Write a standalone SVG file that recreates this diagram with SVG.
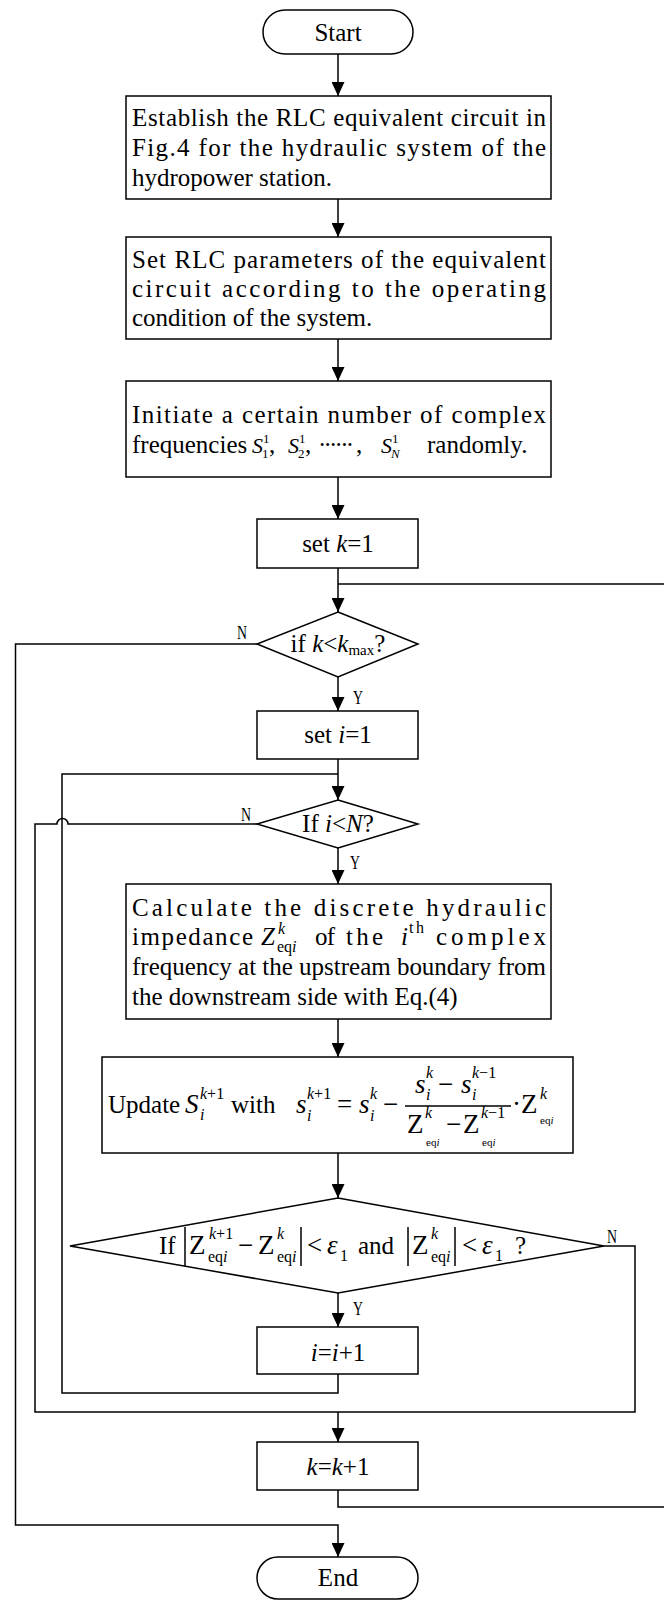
<svg xmlns="http://www.w3.org/2000/svg" width="664" height="1600" viewBox="0 0 664 1600">
<style>
text{font-family:"Liberation Serif","Times New Roman",serif;font-size:25px;fill:#000}
.i{font-style:italic}
.m{font-size:27px}
.s{font-size:16px}
.ss{font-size:13px}
.xs{font-size:11px}
.sm{font-size:22px}
.lbl{font-size:18px}
.box{fill:#fff;stroke:#000;stroke-width:1.5}
.ln{fill:none;stroke:#000;stroke-width:1.5}
</style>
<defs>
<marker id="arr" markerUnits="userSpaceOnUse" markerWidth="14" markerHeight="13" viewBox="0 0 14 13" refX="14" refY="6.5" orient="auto">
<path d="M0,0 L14,6.5 L0,13 z" fill="#000"/>
</marker>
</defs>
<rect width="664" height="1600" fill="#fff"/>

<g id="connectors">
<path class="ln" d="M338,54 V96" marker-end="url(#arr)"/>
<path class="ln" d="M338,199 V237" marker-end="url(#arr)"/>
<path class="ln" d="M338,339 V381" marker-end="url(#arr)"/>
<path class="ln" d="M338,477 V519" marker-end="url(#arr)"/>
<path class="ln" d="M338,568 V612" marker-end="url(#arr)"/>
<path class="ln" d="M338,677 V711" marker-end="url(#arr)"/>
<path class="ln" d="M338,759 V800" marker-end="url(#arr)"/>
<path class="ln" d="M338,848 V884" marker-end="url(#arr)"/>
<path class="ln" d="M338,1019 V1057" marker-end="url(#arr)"/>
<path class="ln" d="M338,1153 V1198" marker-end="url(#arr)"/>
<path class="ln" d="M338,1293 V1327" marker-end="url(#arr)"/>
<path class="ln" d="M338,1412 V1442" marker-end="url(#arr)"/>
<path class="ln" d="M338,1490 V1507 H667 V584 H338"/>
<path class="ln" d="M257,644 H15.5 V1525 H338 V1557" marker-end="url(#arr)"/>
<path class="ln" d="M338,1374 V1393 H62 V774 H338"/>
<path class="ln" d="M257,824 H68 A5.5,5.5 0 0 0 57,824 H35 V1412 H338"/>
<path class="ln" d="M604,1246 H635 V1412 H338"/>
</g>

<g id="labels">
<text class="lbl" x="237" y="639" textLength="10" lengthAdjust="spacingAndGlyphs">N</text>
<text class="lbl" x="353" y="704" textLength="10" lengthAdjust="spacingAndGlyphs">Y</text>
<text class="lbl" x="241" y="821" textLength="10" lengthAdjust="spacingAndGlyphs">N</text>
<text class="lbl" x="350" y="869" textLength="10" lengthAdjust="spacingAndGlyphs">Y</text>
<text class="lbl" x="607" y="1243" textLength="10" lengthAdjust="spacingAndGlyphs">N</text>
<text class="lbl" x="353" y="1315" textLength="10" lengthAdjust="spacingAndGlyphs">Y</text>
</g>

<g id="start">
<rect class="box" x="263" y="10" width="150" height="44" rx="22"/>
<text x="338" y="41" text-anchor="middle">Start</text>
</g>

<g id="box1">
<rect class="box" x="126" y="96" width="425" height="103"/>
<text x="132" y="126" textLength="414" lengthAdjust="spacing">Establish the RLC equivalent circuit in</text>
<text x="132" y="156" textLength="414" lengthAdjust="spacing">Fig.4 for the hydraulic system of the</text>
<text x="132" y="186">hydropower station.</text>
</g>

<g id="box2">
<rect class="box" x="126" y="237" width="425" height="102"/>
<text x="132" y="268" textLength="414" lengthAdjust="spacing">Set RLC parameters of the equivalent</text>
<text x="132" y="297" textLength="414" lengthAdjust="spacing">circuit according to the operating</text>
<text x="132" y="326">condition of the system.</text>
</g>

<g id="box3">
<rect class="box" x="126" y="381" width="425" height="96"/>
<text x="132" y="423" textLength="414" lengthAdjust="spacing">Initiate a certain number of complex</text>
<text x="132" y="453">frequencies</text>
<text class="sm i" x="252" y="453">S</text>
<text class="ss" x="263" y="443">1</text>
<text class="ss" x="262" y="458">1</text>
<text x="269" y="453">,</text>
<text class="sm i" x="288" y="453">S</text>
<text class="ss" x="299" y="443">1</text>
<text class="ss" x="298" y="458">2</text>
<text x="305" y="453">,</text>
<text x="318" y="453" textLength="36" lengthAdjust="spacing">······</text>
<text x="356" y="453">,</text>
<text class="sm i" x="381" y="453">S</text>
<text class="ss" x="392" y="443">1</text>
<text class="ss i" x="391" y="458">N</text>
<text x="427" y="453">randomly.</text>
</g>

<g id="setk">
<rect class="box" x="257" y="519" width="161" height="49"/>
<text x="338" y="552" text-anchor="middle">set <tspan class="i">k</tspan>=1</text>
</g>

<g id="dec1">
<polygon class="box" points="338,612 418,644 338,677 257,644"/>
<text x="338" y="652" text-anchor="middle">if <tspan class="i">k</tspan>&lt;<tspan class="i">k</tspan><tspan font-size="15" dy="3">max</tspan><tspan dy="-3">?</tspan></text>
</g>

<g id="seti">
<rect class="box" x="257" y="711" width="161" height="48"/>
<text x="338" y="743" text-anchor="middle">set <tspan class="i">i</tspan>=1</text>
</g>

<g id="dec2">
<polygon class="box" points="338,800 418,824 338,848 257,824"/>
<text x="338" y="832" text-anchor="middle">If <tspan class="i">i</tspan>&lt;<tspan class="i">N</tspan>?</text>
</g>

<g id="calc">
<rect class="box" x="126" y="884" width="425" height="135"/>
<text x="132" y="916" textLength="414" lengthAdjust="spacing">Calculate the discrete hydraulic</text>
<text x="132" y="945" textLength="121" lengthAdjust="spacing">impedance</text>
<text class="i" x="261" y="945">Z</text>
<text class="s i" x="278" y="934">k</text>
<text class="s" x="277" y="952">eq<tspan class="i">i</tspan></text>
<text x="315" y="945" textLength="20" lengthAdjust="spacing">of</text>
<text x="346" y="945" textLength="37" lengthAdjust="spacing">the</text>
<text class="i" x="401" y="945">i</text>
<text class="s" x="409" y="933" textLength="15" lengthAdjust="spacing">th</text>
<text x="436" y="945" textLength="110" lengthAdjust="spacing">complex</text>
<text x="132" y="975" textLength="414" lengthAdjust="spacing">frequency at the upstream boundary from</text>
<text x="132" y="1005">the downstream side with Eq.(4)</text>
</g>

<g id="update">
<rect class="box" x="102" y="1057" width="471" height="96"/>
<text x="108" y="1113">Update</text>
<text class="m i" x="185" y="1113">S</text>
<text class="s" x="200" y="1099"><tspan class="i">k</tspan>+1</text>
<text class="s i" x="200" y="1120">i</text>
<text x="231" y="1113">with</text>
<text class="m i" x="296" y="1113">s</text>
<text class="s" x="307" y="1099"><tspan class="i">k</tspan>+1</text>
<text class="s i" x="307" y="1121">i</text>
<text class="m" x="337" y="1113">=</text>
<text class="m i" x="359" y="1113">s</text>
<text class="s i" x="370" y="1099">k</text>
<text class="s i" x="370" y="1121">i</text>
<text class="m" x="383" y="1113">−</text>
<line class="ln" x1="405" y1="1106" x2="511" y2="1106"/>
<text class="m i" x="415" y="1093">s</text>
<text class="s i" x="426" y="1078">k</text>
<text class="s i" x="426" y="1100">i</text>
<text class="m" x="438" y="1093">−</text>
<text class="m i" x="461" y="1093">s</text>
<text class="s" x="472" y="1078"><tspan class="i">k</tspan>−1</text>
<text class="s i" x="472" y="1100">i</text>
<text class="m" x="407" y="1133">Z</text>
<text class="s i" x="425" y="1118">k</text>
<text class="xs" x="426" y="1146">eq<tspan class="i">i</tspan></text>
<text class="m" x="446" y="1133">−</text>
<text class="m" x="463" y="1133">Z</text>
<text class="s" x="481" y="1118"><tspan class="i">k</tspan>−1</text>
<text class="xs" x="482" y="1146">eq<tspan class="i">i</tspan></text>
<text class="m" x="512" y="1113">·</text>
<text class="m" x="521" y="1113">Z</text>
<text class="s i" x="540" y="1099">k</text>
<text class="xs" x="540" y="1124">eq<tspan class="i">i</tspan></text>
</g>

<g id="dec3">
<polygon class="box" points="338,1198 604,1246 338,1293 70,1246"/>
<text x="159" y="1254">If</text>
<line class="ln" x1="185" y1="1227" x2="185" y2="1266"/>
<text class="m" x="189" y="1254">Z</text>
<text class="s" x="209" y="1239"><tspan class="i">k</tspan>+1</text>
<text class="s" x="208" y="1262">eq<tspan class="i">i</tspan></text>
<text class="m" x="238" y="1254">−</text>
<text class="m" x="258" y="1254">Z</text>
<text class="s i" x="277" y="1239">k</text>
<text class="s" x="277" y="1262">eq<tspan class="i">i</tspan></text>
<line class="ln" x1="301" y1="1227" x2="301" y2="1266"/>
<text class="m" x="307" y="1254">&lt;</text>
<text class="m i" x="327" y="1254">ε</text>
<text class="s" x="340" y="1261">1</text>
<text x="358" y="1254">and</text>
<line class="ln" x1="408" y1="1227" x2="408" y2="1266"/>
<text class="m" x="412" y="1254">Z</text>
<text class="s i" x="431" y="1239">k</text>
<text class="s" x="431" y="1262">eq<tspan class="i">i</tspan></text>
<line class="ln" x1="455" y1="1227" x2="455" y2="1266"/>
<text class="m" x="462" y="1254">&lt;</text>
<text class="m i" x="482" y="1254">ε</text>
<text class="s" x="495" y="1261">1</text>
<text x="515" y="1254">?</text>
</g>

<g id="inc_i">
<rect class="box" x="257" y="1327" width="161" height="47"/>
<text x="338" y="1361" text-anchor="middle"><tspan class="i">i</tspan>=<tspan class="i">i</tspan>+1</text>
</g>

<g id="inc_k">
<rect class="box" x="257" y="1442" width="161" height="48"/>
<text x="338" y="1475" text-anchor="middle"><tspan class="i">k</tspan>=<tspan class="i">k</tspan>+1</text>
</g>

<g id="end">
<rect class="box" x="257" y="1557" width="161" height="42" rx="21"/>
<text x="338" y="1586" text-anchor="middle">End</text>
</g>
</svg>
